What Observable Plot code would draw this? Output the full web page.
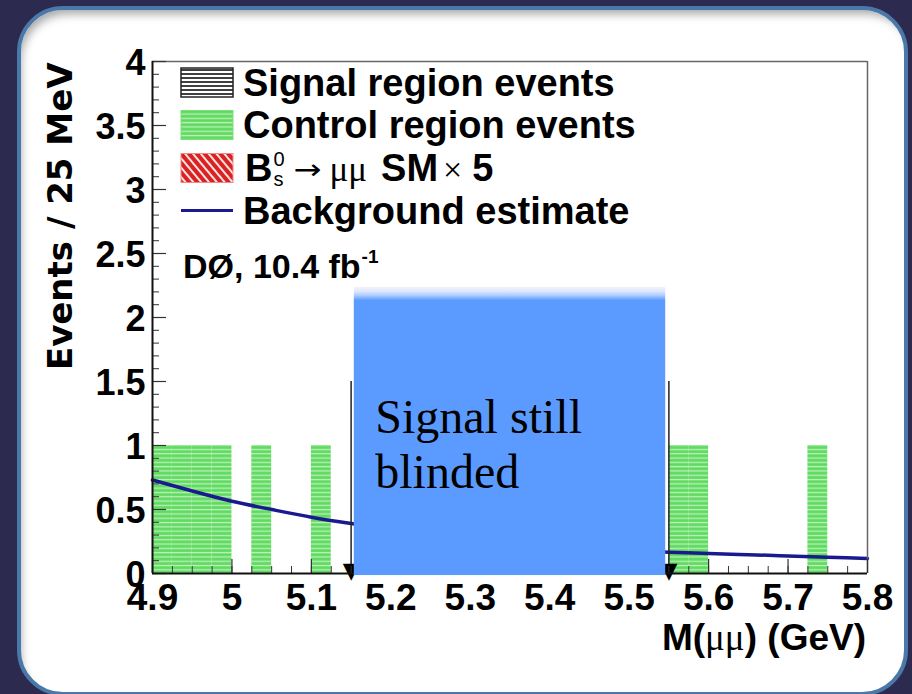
<!DOCTYPE html>
<html><head><meta charset="utf-8">
<script src="https://cdn.jsdelivr.net/npm/d3@7"></script>
<script src="https://cdn.jsdelivr.net/npm/@observablehq/plot@0.6"></script>
<style>
html,body{margin:0;padding:0;width:912px;height:694px;overflow:hidden;background:#2c2a4e;}
#panel{position:absolute;left:17px;top:6px;width:883px;height:682px;background:#fff;border:4px solid #4a78a9;border-radius:46px;box-shadow:inset 5px 9px 10px -5px rgba(0,0,0,0.35);}
#chart{position:absolute;left:0;top:0;width:912px;height:694px;}
#legend{position:absolute;left:0;top:0;}
</style></head>
<body>
<div id="panel"></div>
<div id="chart"></div>
<script>
// ---- data ----
const xDomain = [4.9, 5.8];
const yDomain = [0, 4];
const xTickValues = [4.9, 5.0, 5.1, 5.2, 5.3, 5.4, 5.5, 5.6, 5.7, 5.8];
const xTickLabels = ["4.9", "5", "5.1", "5.2", "5.3", "5.4", "5.5", "5.6", "5.7", "5.8"];
const yTickValues = [0, 0.5, 1, 1.5, 2, 2.5, 3, 3.5, 4];
const yTickLabels = ["0", "0.5", "1", "1.5", "2", "2.5", "3", "3.5", "4"];
const binWidth = 0.025; // 25 MeV bins
const controlBinLow = [4.9, 4.925, 4.95, 4.975, 5.025, 5.1, 5.55, 5.575, 5.725];
const controlCounts = [1, 1, 1, 1, 1, 1, 1, 1, 1];
const bkgMass = [4.9, 4.95, 5.0, 5.05, 5.1, 5.15, 5.2, 5.25, 5.3, 5.35, 5.4, 5.45, 5.5, 5.55, 5.6, 5.65, 5.7, 5.75, 5.8];
const bkgEvents = [0.73, 0.645, 0.565, 0.50, 0.44, 0.39, 0.345, 0.305, 0.27, 0.24, 0.215, 0.195, 0.18, 0.166, 0.156, 0.147, 0.137, 0.127, 0.117];
const signalEdges = [5.15, 5.55];
const signalLineTop = 1.5;
const blindBox = [{x1: 5.154, x2: 5.546, y1: -0.016, y2: 2.235}];
const blindText = "Signal still\nblinded";
const legendLabels = ["Signal region events", "Control region events", "B_s^0 → μμ SM × 5", "Background estimate"];
const experimentLabel = "DØ, 10.4 fb";
const experimentSup = "-1";
const yTitle = "Events / 25 MeV";

// ---- layout ----
const W = 912, H = 694, mL = 152, mR = 45, mT = 61, mB = 121;
const xPerPx = (xDomain[1] - xDomain[0]) / (W - mL - mR);
const yPerPx = (yDomain[1] - yDomain[0]) / (H - mT - mB);
const yMinor = d3.range(0, 4.0001, 0.1).map(v => +v.toFixed(2));
const xMinor = d3.range(4.9, 5.8001, 0.025).map(v => +v.toFixed(3));
const control = controlBinLow.map((lo, i) => ({lo, hi: lo + binWidth, n: controlCounts[i]}));
const bkg = bkgMass.map((m, i) => ({m, v: bkgEvents[i]}));

const sans = "DejaVu Sans";
const hel = "Liberation Sans";

const chart = Plot.plot({
  width: W, height: H,
  marginLeft: mL, marginRight: mR, marginTop: mT, marginBottom: mB,
  style: {background: "none", overflow: "visible"},
  x: {domain: xDomain, axis: null},
  y: {domain: yDomain, axis: null},
  marks: [
    Plot.rectY(control, {x1: "lo", x2: "hi", y1: 0, y2: "n", fill: "url(#greenHatch)", inset: 0}),
    Plot.line(bkg, {x: "m", y: "v", stroke: "#1a1a8e", strokeWidth: 3.5, curve: "natural"}),
    Plot.ruleX(signalEdges, {y1: 0, y2: signalLineTop, stroke: "#222", strokeWidth: 1.5}),
    Plot.text(signalEdges, {x: d => d, y: 0, text: () => "▼", fontSize: 22, fontFamily: sans, lineAnchor: "bottom", dy: 4, fill: "#000"}),
    // frame
    Plot.ruleY([yDomain[1]], {x1: xDomain[0], x2: xDomain[1], stroke: "#666", strokeWidth: 1.5}),
    Plot.ruleX([xDomain[1]], {y1: yDomain[0], y2: yDomain[1], stroke: "#666", strokeWidth: 1.5}),
    // ticks
    Plot.ruleY(yMinor, {x1: xDomain[0], x2: xDomain[0] + 7 * xPerPx, stroke: "#333", strokeWidth: 1}),
    Plot.ruleY(yTickValues, {x1: xDomain[0], x2: xDomain[0] + 14 * xPerPx, stroke: "#333", strokeWidth: 1.2}),
    Plot.ruleX(xMinor, {y1: 0, y2: 7 * yPerPx, stroke: "#333", strokeWidth: 1}),
    Plot.ruleX(xTickValues, {y1: 0, y2: 14 * yPerPx, stroke: "#333", strokeWidth: 1.2}),
    Plot.ruleY([yDomain[0]], {x1: xDomain[0], x2: xDomain[1], stroke: "#111", strokeWidth: 2}),
    Plot.ruleX([xDomain[0]], {y1: yDomain[0], y2: yDomain[1], stroke: "#111", strokeWidth: 2}),
    // blinded region
    Plot.rect(blindBox, {x1: "x1", x2: "x2", y1: "y1", y2: "y2", fill: "url(#blindGrad)"}),
    Plot.text([blindText], {x: blindBox[0].x1, y: blindBox[0].y2, text: d => d, textAnchor: "start", lineAnchor: "top", dx: 21, dy: 106, fontSize: 48, lineHeight: 1.15, fontFamily: "Liberation Serif", fill: "#000"}),
    // tick labels
    Plot.text(yTickValues, {x: xDomain[0], y: d => d, text: (d, i) => yTickLabels[i], textAnchor: "end", dx: -7, dy: 2, fontSize: 36, fontWeight: "bold", fontFamily: hel, fill: "#000"}),
    Plot.text(xTickValues, {x: d => d, y: 0, text: (d, i) => xTickLabels[i], lineAnchor: "bottom", dy: 36, fontSize: 37, fontWeight: "bold", fontFamily: hel, fill: "#000"}),
    // axis titles
    Plot.text([yTitle], {frameAnchor: "top-left", text: d => d, rotate: -90, textAnchor: "end", lineAnchor: "bottom", dx: -81, dy: 1, fontSize: 34, fontWeight: "bold", fontFamily: sans, fill: "#000"})
  ]
});

const svg = d3.select(chart.tagName.toLowerCase() === "svg" ? chart : chart.querySelector("svg"));
const defs = svg.insert("defs", ":first-child");
const g = defs.append("pattern").attr("id", "greenHatch").attr("patternUnits", "userSpaceOnUse").attr("width", 10).attr("height", 4.3);
g.append("rect").attr("width", 10).attr("height", 4.3).attr("fill", "#62da62");
g.append("rect").attr("y", 1.6).attr("width", 10).attr("height", 1.3).attr("fill", "#b8f2b8");
const bg = defs.append("linearGradient").attr("id", "blindGrad").attr("x1", 0).attr("y1", 0).attr("x2", 0).attr("y2", 1);
[[0, "#fbeefa"], [0.015, "#dde9ff"], [0.03, "#abcaff"], [0.046, "#5b9bff"], [1, "#5b9bff"]].forEach(([o, c]) => bg.append("stop").attr("offset", o).attr("stop-color", c));
document.getElementById("chart").appendChild(chart);

// x-axis title (mixed fonts)
const xt = svg.append("text").attr("x", 866).attr("y", 650).attr("text-anchor", "end").attr("fill", "#000").style("font-size", "37px");
xt.append("tspan").text("M(").attr("font-family", hel).attr("font-weight", "bold");
xt.append("tspan").text("μμ").attr("font-family", "Liberation Serif");
xt.append("tspan").text(") (GeV)").attr("font-family", hel).attr("font-weight", "bold");

// ---- legend ----
const lg = d3.select("body").append("svg").attr("id", "legend").attr("width", W).attr("height", H);
const ld = lg.append("defs");
const bh = ld.append("pattern").attr("id", "blackHatch").attr("patternUnits", "userSpaceOnUse").attr("width", 10).attr("height", 4);
bh.append("rect").attr("width", 10).attr("height", 4).attr("fill", "#fff");
bh.append("rect").attr("y", 1.2).attr("width", 10).attr("height", 1.6).attr("fill", "#111");
const rh = ld.append("pattern").attr("id", "redHatch").attr("patternUnits", "userSpaceOnUse").attr("width", 6).attr("height", 6).attr("patternTransform", "rotate(-40)");
rh.append("rect").attr("width", 6).attr("height", 6).attr("fill", "#d92222");
rh.append("rect").attr("x", 0).attr("width", 2).attr("height", 6).attr("fill", "#fbe3e3");
const gh = ld.append("pattern").attr("id", "greenHatchL").attr("patternUnits", "userSpaceOnUse").attr("width", 10).attr("height", 4.3);
gh.append("rect").attr("width", 10).attr("height", 4.3).attr("fill", "#62da62");
gh.append("rect").attr("y", 1.6).attr("width", 10).attr("height", 1.3).attr("fill", "#b8f2b8");

const rowCenter = [82.5, 125, 168, 210.5];
const swX = 181, swW = 52, swH = 29, txX = 243;
lg.append("rect").attr("x", swX).attr("y", rowCenter[0] - swH / 2).attr("width", swW).attr("height", swH).attr("fill", "url(#blackHatch)").attr("stroke", "#222").attr("stroke-width", 1.5);
lg.append("rect").attr("x", swX).attr("y", rowCenter[1] - swH / 2).attr("width", swW).attr("height", swH).attr("fill", "url(#greenHatchL)").attr("stroke", "#7be07b").attr("stroke-width", 1);
lg.append("rect").attr("x", swX).attr("y", rowCenter[2] - swH / 2).attr("width", swW).attr("height", swH).attr("fill", "url(#redHatch)").attr("stroke", "#e88").attr("stroke-width", 1);
lg.append("line").attr("x1", swX).attr("x2", swX + swW).attr("y1", rowCenter[3]).attr("y2", rowCenter[3]).attr("stroke", "#1a1a8e").attr("stroke-width", 3);

const T = (x, y, s, opts = {}) => lg.append("text").attr("x", x).attr("y", y).text(s)
  .attr("font-family", opts.family || hel).attr("font-weight", opts.weight || "bold")
  .style("font-size", (opts.size || 38) + "px").attr("fill", "#000");
const lift = 13;
[0, 1, 3].forEach(i => T(txX, rowCenter[i] + lift, legendLabels[i]));
// B_s^0 -> mu mu SM x 5
{
  const base = rowCenter[2] + lift;
  const b = T(txX + 2, base, "B");
  let x = txX + 2 + b.node().getComputedTextLength() + 1;
  const sup = T(x, base - 15, "0", {weight: "normal", size: 20});
  const sub = T(x, base + 5, "s", {weight: "normal", size: 20});
  x += Math.max(sup.node().getComputedTextLength(), sub.node().getComputedTextLength()) + 9;
  const ar = T(0, 0, "→", {weight: "normal", size: 28, family: "DejaVu Sans"});
  const arW = ar.node().getComputedTextLength();
  const sx = 28 / arW;
  ar.attr("transform", `translate(${x},${base - 2}) scale(${sx},1)`);
  x += 28 + 8;
  const mu = T(x, base, "μμ", {weight: "normal", size: 35, family: "Liberation Serif"});
  x += mu.node().getComputedTextLength() + 14;
  const sm = T(x, base, "SM");
  x += sm.node().getComputedTextLength() + 5;
  const tm = T(x, base, "×", {weight: "normal", size: 34, family: "Liberation Serif"});
  x += tm.node().getComputedTextLength() + 10;
  T(x, base, "5");
}
{
  const e = T(183, 278, experimentLabel, {size: 34});
  T(183 + e.node().getComputedTextLength() + 1, 263, experimentSup, {size: 19});
}
</script>
</body></html>
